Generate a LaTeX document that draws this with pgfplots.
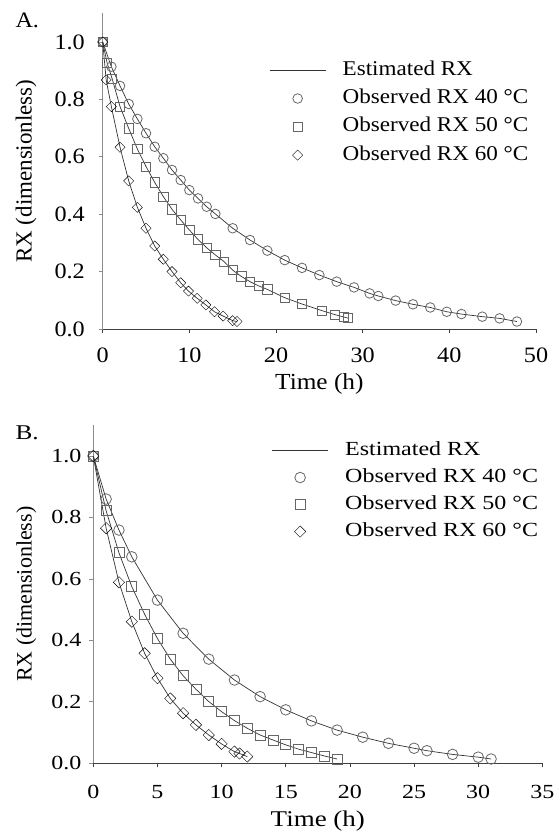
\documentclass[border=0pt]{standalone}
\usepackage{fontspec}
\setmainfont{Liberation Serif}
\newfontfamily\fA{Liberation Serif}[FakeStretch=1.1]
\newfontfamily\fB{Liberation Serif}[FakeStretch=1.2]
\newfontfamily\fU{Liberation Serif}
\usepackage{pgfplots}
\usepackage{pgfplotstable}
\pgfplotsset{compat=1.18}

% panel A: 40, 50, 60 C
\pgfplotstableread{
t rx
0 1.000
1 0.914
2 0.847
3 0.784
4 0.732
5 0.682
6 0.635
7 0.595
8 0.554
9 0.519
10 0.484
11 0.455
12 0.426
13 0.401
15 0.351
17 0.310
19 0.273
21 0.240
23 0.213
25 0.188
27 0.165
29 0.145
30.8 0.124
31.8 0.115
33.8 0.099
35.8 0.086
37.8 0.075
39.7 0.060
41.4 0.052
43.8 0.043
45.8 0.037
47.8 0.026
}\aforty
\pgfplotstableread{
t rx
0 1.000
0.5 0.928
1.1 0.871
2 0.775
3 0.699
4 0.627
5 0.566
6 0.511
7 0.461
8 0.417
9 0.380
10 0.345
11 0.312
12 0.283
13 0.258
14 0.235
15 0.205
16 0.183
17 0.165
18 0.150
19 0.138
21 0.109
23 0.087
25.3 0.064
26.8 0.050
27.8 0.042
28.3 0.038
}\afifty
\pgfplotstableread{
t rx
0 1.000
0.4 0.868
1 0.775
2 0.633
3 0.516
4 0.424
5 0.351
6 0.289
7 0.243
8 0.200
9 0.161
9.9 0.132
10.9 0.107
11.9 0.084
12.9 0.060
13.9 0.045
15 0.029
15.5 0.026
}\asixty

% panel B
\pgfplotstableread{
t rx
0 1.000
1 0.860
2 0.759
3 0.672
5 0.531
7 0.423
9 0.339
11 0.271
13 0.217
15 0.174
17 0.138
19 0.108
21 0.085
23 0.065
25 0.049
26 0.041
28 0.029
30 0.020
31 0.014
}\bforty
\pgfplotstableread{
t rx
0 1.000
1 0.822
2 0.685
3 0.575
4 0.485
5 0.406
6 0.339
7 0.285
8 0.241
9 0.201
10 0.168
11 0.139
12 0.114
13 0.092
14 0.076
15 0.060
16 0.046
17 0.035
18 0.024
19 0.014
}\bfifty
\pgfplotstableread{
t rx
0 1.000
1 0.765
2 0.589
3 0.461
4 0.358
5 0.277
6 0.211
7 0.163
8 0.125
9 0.092
10 0.063
11 0.038
11.4 0.032
12 0.022
}\bsixty

\pgfplotsset{
  rxbase/.style={
    scale only axis, clip=false,
    axis x line*=bottom, axis y line*=left,
    x axis line style={black!75, line width=0.8bp, -},
    y axis line style={black!45, line width=0.8bp, -},
    tick align=outside, major tick length=4bp,
    xtick style={black!75, line width=0.8bp},
    ytick style={black!45, line width=0.8bp},
    ymin=0, ymax=1.1, ytick={0,0.2,0.4,0.6,0.8,1.0},
    yticklabel style={/pgf/number format/.cd, fixed, fixed zerofill, precision=1},
    /pgf/number format/assume math mode=true,
    legend cell align=left,
    legend image code/.code={\draw[mark repeat=2,mark phase=2,##1]
      plot coordinates {(0bp,0bp) (28bp,0bp) (56bp,0bp)};},
  },
  estl/.style={black!80, line width=0.7bp, mark=none, sharp plot},
  obs/.style={only marks, mark options={fill=white, draw=black!60, line width=0.8bp}},
}

\begin{document}
\begin{tikzpicture}
\useasboundingbox (0,0) rectangle (554bp,834bp);

\begin{axis}[rxbase,
  at={(102.7bp,505bp)}, anchor=south west,
  width=433.3bp, height=315.7bp,
  xmin=0, xmax=50, xtick={0,10,20,30,40,50},
  ticklabel style={font=\fA\fontsize{22bp}{24bp}\selectfont, inner sep=0pt},
  xticklabel shift=15bp, yticklabel shift=13.7bp,
  xlabel={Time (h)}, ylabel={RX (dimensionless)},
  xlabel style={font=\fA\fontsize{23bp}{26bp}\selectfont,
    at={(axis description cs:0.5,-0.193)}, anchor=base},
  ylabel style={font=\fU\fontsize{23bp}{26bp}\selectfont,
    at={(axis description cs:-0.177,0.5)}, anchor=center},
  legend style={draw=none, fill=none, inner sep=0pt,
    at={(0.384,0.852)}, anchor=north west,
    font=\fA\fontsize{21bp}{24bp}\selectfont,
    row sep=8.3bp, column sep=16.7bp,
    nodes={inner sep=0pt, text height=15bp, text depth=5bp}},
]
\addplot[estl] table {\aforty};
\addlegendentry{Estimated RX}
\addplot[estl, forget plot] table {\afifty};
\addplot[estl, forget plot] table {\asixty};
\addplot[obs, mark=o, mark size=4.8bp] table {\aforty};
\addlegendentry{Observed RX 40 °C}
\addplot[obs, mark=square, mark size=4.6bp] table {\afifty};
\addlegendentry{Observed RX 50 °C}
\addplot[obs, mark=square, mark size=3.6bp, mark options={rotate=45}] table {\asixty};
\addlegendentry{Observed RX 60 °C}
\end{axis}

\begin{axis}[rxbase,
  at={(93.3bp,70.7bp)}, anchor=south west,
  width=449.1bp, height=338bp,
  xmin=0, xmax=35, xtick={0,5,10,15,20,25,30,35},
  ticklabel style={font=\fB\fontsize{20bp}{22bp}\selectfont, inner sep=0pt},
  xticklabel shift=17.7bp, yticklabel shift=7.6bp,
  xlabel={Time (h)}, ylabel={RX (dimensionless)},
  xlabel style={font=\fB\fontsize{22.5bp}{26bp}\selectfont,
    at={(axis description cs:0.5,-0.188)}, anchor=base},
  ylabel style={font=\fU\fontsize{22bp}{26bp}\selectfont,
    at={(axis description cs:-0.149,0.5)}, anchor=center},
  legend style={draw=none, fill=none, inner sep=0pt,
    at={(0.397,0.954)}, anchor=north west,
    font=\fB\fontsize{20bp}{22bp}\selectfont,
    row sep=8bp, column sep=16.7bp,
    nodes={inner sep=0pt, text height=14bp, text depth=5bp}},
]
\addplot[estl] table {\bforty};
\addlegendentry{Estimated RX}
\addplot[estl, forget plot] table {\bfifty};
\addplot[estl, forget plot] table {\bsixty};
\addplot[obs, mark=o, mark size=5.3bp] table {\bforty};
\addlegendentry{Observed RX 40 °C}
\addplot[obs, mark=square, mark size=5bp] table {\bfifty};
\addlegendentry{Observed RX 50 °C}
\addplot[obs, mark=square, mark size=4bp, mark options={rotate=45}] table {\bsixty};
\addlegendentry{Observed RX 60 °C}
\end{axis}

\node[anchor=base west, font=\fA\fontsize{22bp}{24bp}\selectfont] at (12bp,806bp) {A.};
\node[anchor=base west, font=\fB\fontsize{21bp}{24bp}\selectfont] at (12bp,394bp) {B.};
\end{tikzpicture}
\end{document}
